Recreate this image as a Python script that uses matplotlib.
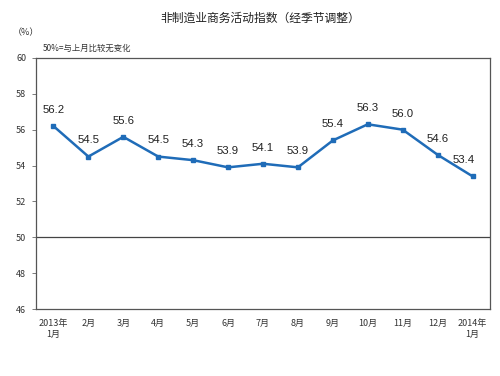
import matplotlib
matplotlib.use("Agg")
import matplotlib.pyplot as plt

plt.rcParams['font.family'] = ['Noto Sans CJK SC', 'DejaVu Sans']

months = ["2013年\n1月", "2月", "3月", "4月", "5月", "6月", "7月", "8月", "9月", "10月", "11月", "12月", "2014年\n1月"]
values = [56.2, 54.5, 55.6, 54.5, 54.3, 53.9, 54.1, 53.9, 55.4, 56.3, 56.0, 54.6, 53.4]
yticks = [46, 48, 50, 52, 54, 56, 58, 60]

fig = plt.figure(figsize=(5, 3.76), dpi=100)
ax = fig.add_axes([0.072, 0.178, 0.908, 0.668])
x = list(range(len(values)))
ax.plot(x, values, color='#1f6cb8', lw=1.8, marker='s', ms=3.5, zorder=3)
for xi, v in zip(x, values):
    dx = -0.25 if xi == len(values) - 1 else 0
    ax.annotate(f"{v:.1f}", (xi + dx, v), xytext=(0, 8), textcoords='offset points',
                ha='center', va='bottom', fontsize=8.2, family=['Liberation Sans'], color='#222222')
ax.axhline(50, color='#444444', lw=0.9, zorder=2)
ax.set_xlim(-0.5, 12.5)
ax.set_ylim(46, 60)
ax.set_yticks(yticks)
ax.set_yticklabels([str(t) for t in yticks], fontsize=6.5, color='#333333')
ax.set_xticks(x)
ax.set_xticklabels(months, fontsize=6.5, color='#333333', linespacing=1.3)
ax.tick_params(axis='x', length=0, pad=7)
ax.tick_params(axis='y', length=3, width=0.6, color='#666666', pad=4)
for s in ax.spines.values():
    s.set_color('#555555')
    s.set_linewidth(0.9)
fig.text(0.52, 0.952, "非制造业商务活动指数（经季节调整）", ha='center', va='center', fontsize=8.5, color='#222222')
fig.text(0.025, 0.913, "（%）", ha='left', va='center', fontsize=6.5, color='#333333')
fig.text(0.085, 0.872, "50%=与上月比较无变化", ha='left', va='center', fontsize=6, color='#333333')
fig.savefig("out.png", dpi=100)
